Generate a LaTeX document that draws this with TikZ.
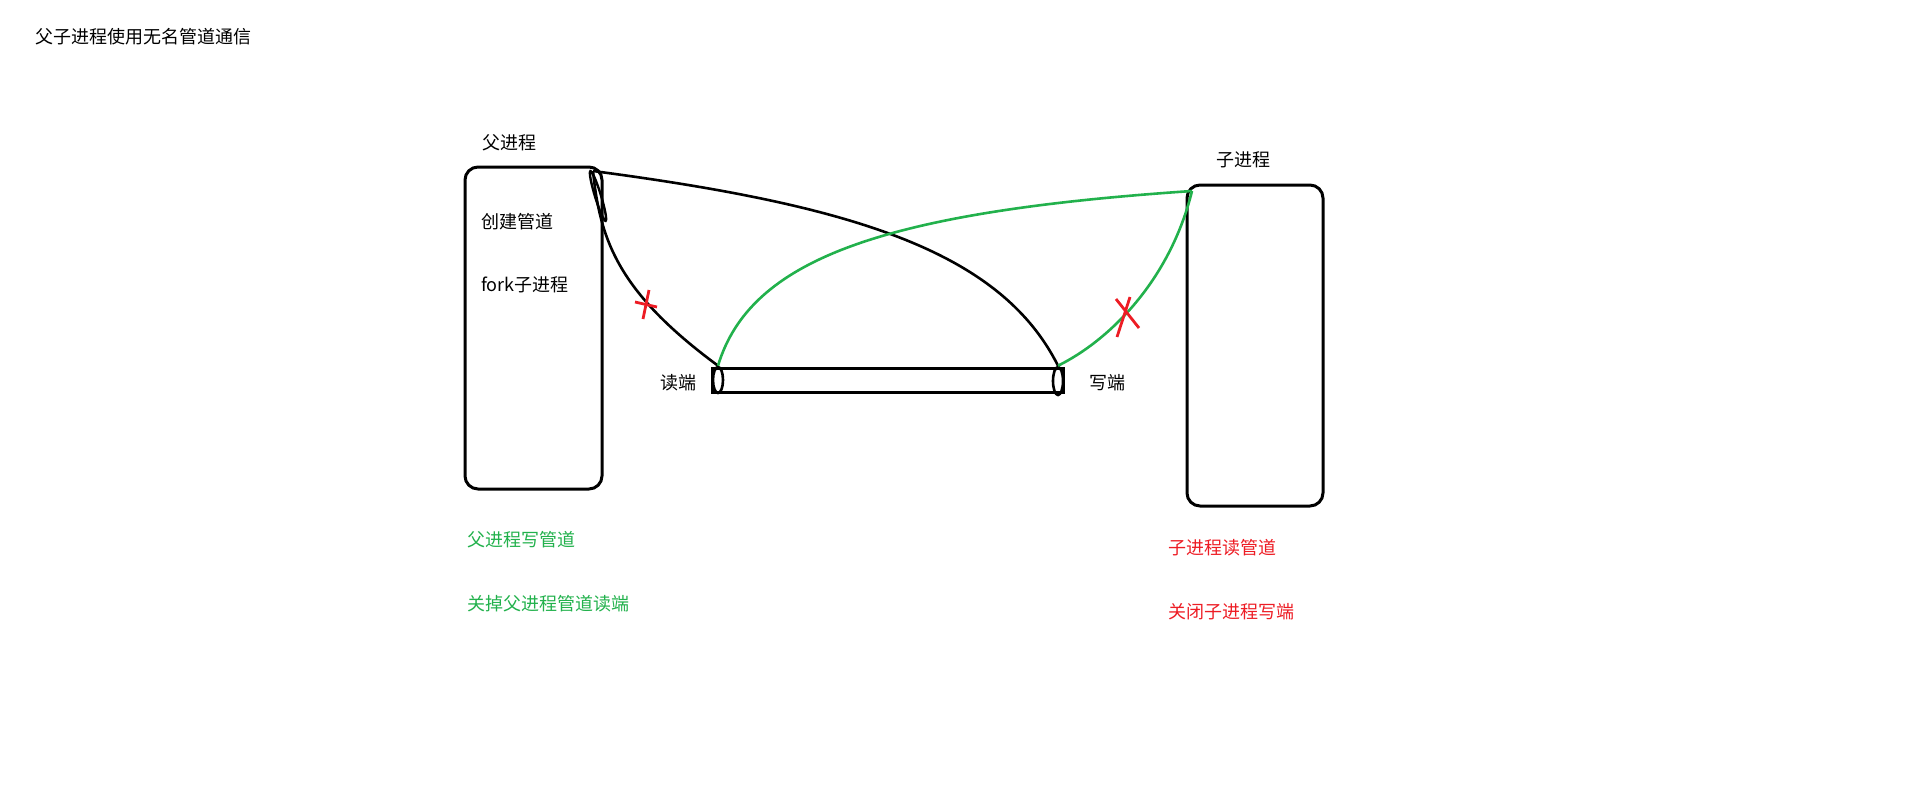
\documentclass[tikz,border=0pt]{standalone}
\usepackage{fontspec}
\setmainfont{Noto Sans CJK SC}
\usetikzlibrary{shapes.geometric}
\definecolor{pgreen}{HTML}{22B14C}
\definecolor{pred}{HTML}{ED1C24}
\begin{document}
\begin{tikzpicture}[x=1pt,y=-1pt,
  lbl/.style={anchor=west,inner sep=0pt,font=\fontsize{18}{18}\selectfont},
  proc/.style={draw=black,line width=3pt,rounded corners=13pt},
  wire/.style={line width=2.6pt},
  cross/.style={draw=pred,line width=2.8pt}]
\useasboundingbox (0,0) rectangle (1914,796);
% title
\node[lbl] (title) at (35,37) {父子进程使用无名管道通信};
% parent
\draw[proc] (465,167) rectangle (602,489);
\node[lbl] (plabel) at (482,143) {父进程};
\node[lbl] (create) at (481,222) {创建管道};
\node[lbl] (fork) at (481,285) {fork子进程};
% child
\draw[proc] (1187,185) rectangle (1323,506);
\node[lbl] (clabel) at (1216,160) {子进程};
% pipe
\draw[line width=3pt] (712,368) rectangle (1063,392);
\node[draw,line width=2.6pt,ellipse,minimum width=10pt,minimum height=26pt,inner sep=0pt] (rend) at (718,380) {};
\node[draw,line width=2.6pt,ellipse,minimum width=10pt,minimum height=28pt,inner sep=0pt] (wend) at (1058,381) {};
\node[lbl] (rlabel) at (660,383) {读端};
\node[lbl] (wlabel) at (1089,383) {写端};
% parent corner ellipse
\draw[line width=2.4pt,rotate around={17:(598,196)}] (598,196) ellipse (3pt and 26pt);
\coordinate (pc) at (593,171);
\coordinate (cc) at (1192,191);
% black wires
\draw[wire] (pc) .. controls (600,240) and (618,292) .. (rend.north);
\draw[wire] (pc) .. controls (850,205) and (1000,250) .. (wend.north);
% green wires
\draw[wire,pgreen] (rend.north) .. controls (750,260) and (880,212) .. (cc);
\draw[wire,pgreen] (wend.north) .. controls (1110,340) and (1170,280) .. (cc);
% red crosses
\draw[cross] (635,302) -- (657,307);
\draw[cross] (649,290) -- (643,319);
\draw[cross] (1116,299) -- (1139,328);
\draw[cross] (1130,297) -- (1117,337);
% notes
\node[lbl,text=pgreen] (n1) at (467,540) {父进程写管道};
\node[lbl,text=pgreen] (n2) at (467,604) {关掉父进程管道读端};
\node[lbl,text=pred] (n3) at (1168,548) {子进程读管道};
\node[lbl,text=pred] (n4) at (1168,612) {关闭子进程写端};
\end{tikzpicture}
\end{document}
